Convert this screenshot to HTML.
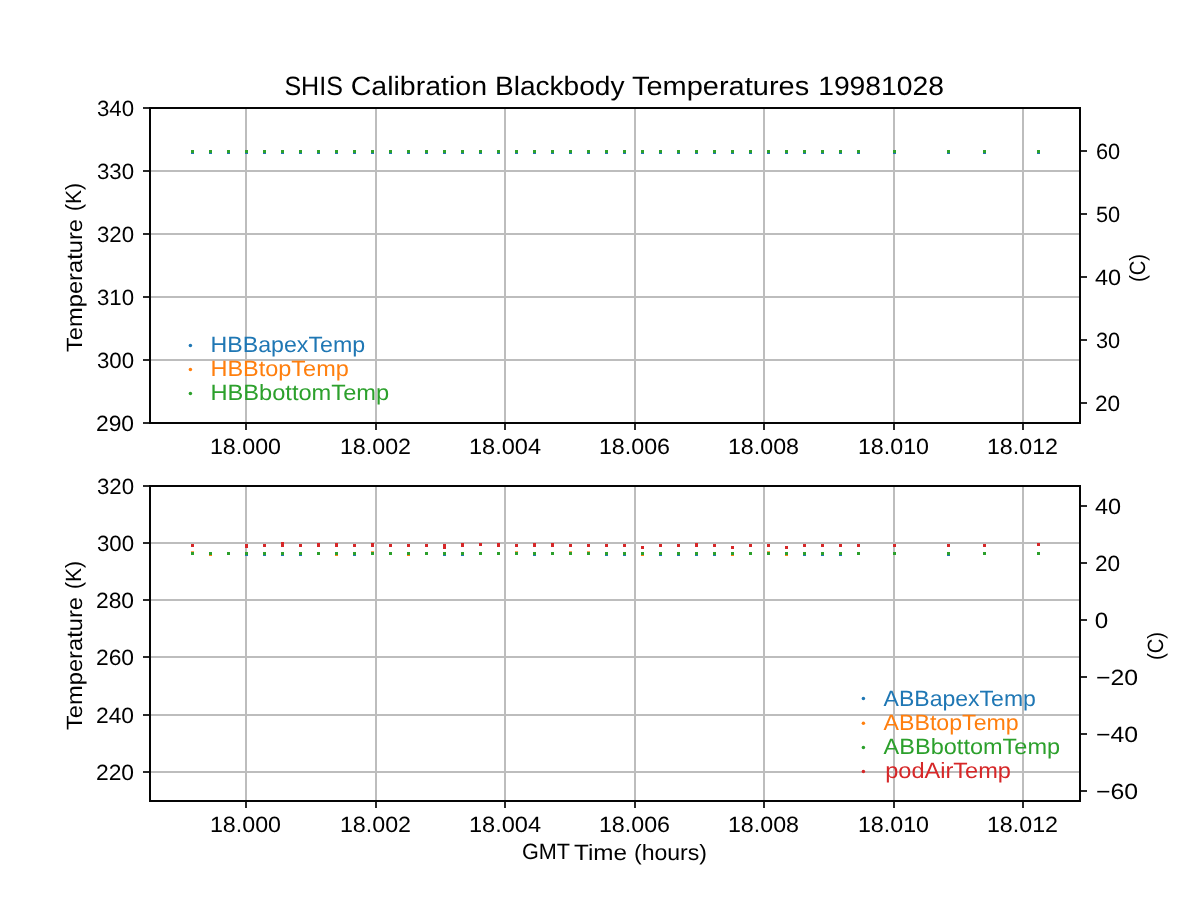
<!DOCTYPE html>
<html><head><meta charset="utf-8"><title>SHIS Calibration Blackbody Temperatures 19981028</title>
<style>html,body{margin:0;padding:0;background:#fff;width:1200px;height:900px;overflow:hidden}svg{display:block;will-change:transform}text{font-family:"Liberation Sans",sans-serif;text-rendering:geometricPrecision}</style></head>
<body><svg width="1200" height="900" viewBox="0 0 1200 900">
<rect width="1200" height="900" fill="#fff"/>
<rect x="245" y="108" width="2" height="315" fill="#bdbdbd"/>
<rect x="375" y="108" width="2" height="315" fill="#bdbdbd"/>
<rect x="504" y="108" width="2" height="315" fill="#bdbdbd"/>
<rect x="634" y="108" width="2" height="315" fill="#bdbdbd"/>
<rect x="763" y="108" width="2" height="315" fill="#bdbdbd"/>
<rect x="893" y="108" width="2" height="315" fill="#bdbdbd"/>
<rect x="1022" y="108" width="2" height="315" fill="#bdbdbd"/>
<rect x="150" y="170" width="930" height="2" fill="#bdbdbd"/>
<rect x="150" y="233" width="930" height="2" fill="#bdbdbd"/>
<rect x="150" y="296" width="930" height="2" fill="#bdbdbd"/>
<rect x="150" y="359" width="930" height="2" fill="#bdbdbd"/>
<rect x="245" y="486" width="2" height="315" fill="#bdbdbd"/>
<rect x="375" y="486" width="2" height="315" fill="#bdbdbd"/>
<rect x="504" y="486" width="2" height="315" fill="#bdbdbd"/>
<rect x="634" y="486" width="2" height="315" fill="#bdbdbd"/>
<rect x="763" y="486" width="2" height="315" fill="#bdbdbd"/>
<rect x="893" y="486" width="2" height="315" fill="#bdbdbd"/>
<rect x="1022" y="486" width="2" height="315" fill="#bdbdbd"/>
<rect x="150" y="542" width="930" height="2" fill="#bdbdbd"/>
<rect x="150" y="599" width="930" height="2" fill="#bdbdbd"/>
<rect x="150" y="656" width="930" height="2" fill="#bdbdbd"/>
<rect x="150" y="714" width="930" height="2" fill="#bdbdbd"/>
<rect x="150" y="771" width="930" height="2" fill="#bdbdbd"/>
<rect x="191.0" y="151" width="3" height="3" fill="#1f77b4"/>
<rect x="191.0" y="150" width="3" height="3" fill="#ff7f0e"/>
<rect x="191.0" y="150" width="3" height="3" fill="#2ca02c"/>
<rect x="209.0" y="151" width="3" height="3" fill="#1f77b4"/>
<rect x="209.0" y="150" width="3" height="3" fill="#ff7f0e"/>
<rect x="209.0" y="150" width="3" height="3" fill="#2ca02c"/>
<rect x="227.0" y="151" width="3" height="3" fill="#1f77b4"/>
<rect x="227.0" y="150" width="3" height="3" fill="#ff7f0e"/>
<rect x="227.0" y="150" width="3" height="3" fill="#2ca02c"/>
<rect x="245.0" y="151" width="3" height="3" fill="#1f77b4"/>
<rect x="245.0" y="150" width="3" height="3" fill="#ff7f0e"/>
<rect x="245.0" y="150" width="3" height="3" fill="#2ca02c"/>
<rect x="263.0" y="151" width="3" height="3" fill="#1f77b4"/>
<rect x="263.0" y="150" width="3" height="3" fill="#ff7f0e"/>
<rect x="263.0" y="150" width="3" height="3" fill="#2ca02c"/>
<rect x="281.0" y="151" width="3" height="3" fill="#1f77b4"/>
<rect x="281.0" y="150" width="3" height="3" fill="#ff7f0e"/>
<rect x="281.0" y="150" width="3" height="3" fill="#2ca02c"/>
<rect x="299.0" y="151" width="3" height="3" fill="#1f77b4"/>
<rect x="299.0" y="150" width="3" height="3" fill="#ff7f0e"/>
<rect x="299.0" y="150" width="3" height="3" fill="#2ca02c"/>
<rect x="317.0" y="151" width="3" height="3" fill="#1f77b4"/>
<rect x="317.0" y="150" width="3" height="3" fill="#ff7f0e"/>
<rect x="317.0" y="150" width="3" height="3" fill="#2ca02c"/>
<rect x="335.0" y="151" width="3" height="3" fill="#1f77b4"/>
<rect x="335.0" y="150" width="3" height="3" fill="#ff7f0e"/>
<rect x="335.0" y="150" width="3" height="3" fill="#2ca02c"/>
<rect x="353.0" y="151" width="3" height="3" fill="#1f77b4"/>
<rect x="353.0" y="150" width="3" height="3" fill="#ff7f0e"/>
<rect x="353.0" y="150" width="3" height="3" fill="#2ca02c"/>
<rect x="371.0" y="151" width="3" height="3" fill="#1f77b4"/>
<rect x="371.0" y="150" width="3" height="3" fill="#ff7f0e"/>
<rect x="371.0" y="150" width="3" height="3" fill="#2ca02c"/>
<rect x="389.0" y="151" width="3" height="3" fill="#1f77b4"/>
<rect x="389.0" y="150" width="3" height="3" fill="#ff7f0e"/>
<rect x="389.0" y="150" width="3" height="3" fill="#2ca02c"/>
<rect x="407.0" y="151" width="3" height="3" fill="#1f77b4"/>
<rect x="407.0" y="150" width="3" height="3" fill="#ff7f0e"/>
<rect x="407.0" y="150" width="3" height="3" fill="#2ca02c"/>
<rect x="425.0" y="151" width="3" height="3" fill="#1f77b4"/>
<rect x="425.0" y="150" width="3" height="3" fill="#ff7f0e"/>
<rect x="425.0" y="150" width="3" height="3" fill="#2ca02c"/>
<rect x="443.0" y="151" width="3" height="3" fill="#1f77b4"/>
<rect x="443.0" y="150" width="3" height="3" fill="#ff7f0e"/>
<rect x="443.0" y="150" width="3" height="3" fill="#2ca02c"/>
<rect x="461.0" y="151" width="3" height="3" fill="#1f77b4"/>
<rect x="461.0" y="150" width="3" height="3" fill="#ff7f0e"/>
<rect x="461.0" y="150" width="3" height="3" fill="#2ca02c"/>
<rect x="479.0" y="151" width="3" height="3" fill="#1f77b4"/>
<rect x="479.0" y="150" width="3" height="3" fill="#ff7f0e"/>
<rect x="479.0" y="150" width="3" height="3" fill="#2ca02c"/>
<rect x="497.0" y="151" width="3" height="3" fill="#1f77b4"/>
<rect x="497.0" y="150" width="3" height="3" fill="#ff7f0e"/>
<rect x="497.0" y="150" width="3" height="3" fill="#2ca02c"/>
<rect x="515.0" y="151" width="3" height="3" fill="#1f77b4"/>
<rect x="515.0" y="150" width="3" height="3" fill="#ff7f0e"/>
<rect x="515.0" y="150" width="3" height="3" fill="#2ca02c"/>
<rect x="533.0" y="151" width="3" height="3" fill="#1f77b4"/>
<rect x="533.0" y="150" width="3" height="3" fill="#ff7f0e"/>
<rect x="533.0" y="150" width="3" height="3" fill="#2ca02c"/>
<rect x="551.0" y="151" width="3" height="3" fill="#1f77b4"/>
<rect x="551.0" y="150" width="3" height="3" fill="#ff7f0e"/>
<rect x="551.0" y="150" width="3" height="3" fill="#2ca02c"/>
<rect x="569.0" y="151" width="3" height="3" fill="#1f77b4"/>
<rect x="569.0" y="150" width="3" height="3" fill="#ff7f0e"/>
<rect x="569.0" y="150" width="3" height="3" fill="#2ca02c"/>
<rect x="587.0" y="151" width="3" height="3" fill="#1f77b4"/>
<rect x="587.0" y="150" width="3" height="3" fill="#ff7f0e"/>
<rect x="587.0" y="150" width="3" height="3" fill="#2ca02c"/>
<rect x="605.0" y="151" width="3" height="3" fill="#1f77b4"/>
<rect x="605.0" y="150" width="3" height="3" fill="#ff7f0e"/>
<rect x="605.0" y="150" width="3" height="3" fill="#2ca02c"/>
<rect x="623.0" y="151" width="3" height="3" fill="#1f77b4"/>
<rect x="623.0" y="150" width="3" height="3" fill="#ff7f0e"/>
<rect x="623.0" y="150" width="3" height="3" fill="#2ca02c"/>
<rect x="641.0" y="151" width="3" height="3" fill="#1f77b4"/>
<rect x="641.0" y="150" width="3" height="3" fill="#ff7f0e"/>
<rect x="641.0" y="150" width="3" height="3" fill="#2ca02c"/>
<rect x="659.0" y="151" width="3" height="3" fill="#1f77b4"/>
<rect x="659.0" y="150" width="3" height="3" fill="#ff7f0e"/>
<rect x="659.0" y="150" width="3" height="3" fill="#2ca02c"/>
<rect x="677.0" y="151" width="3" height="3" fill="#1f77b4"/>
<rect x="677.0" y="150" width="3" height="3" fill="#ff7f0e"/>
<rect x="677.0" y="150" width="3" height="3" fill="#2ca02c"/>
<rect x="695.0" y="151" width="3" height="3" fill="#1f77b4"/>
<rect x="695.0" y="150" width="3" height="3" fill="#ff7f0e"/>
<rect x="695.0" y="150" width="3" height="3" fill="#2ca02c"/>
<rect x="713.0" y="151" width="3" height="3" fill="#1f77b4"/>
<rect x="713.0" y="150" width="3" height="3" fill="#ff7f0e"/>
<rect x="713.0" y="150" width="3" height="3" fill="#2ca02c"/>
<rect x="731.0" y="151" width="3" height="3" fill="#1f77b4"/>
<rect x="731.0" y="150" width="3" height="3" fill="#ff7f0e"/>
<rect x="731.0" y="150" width="3" height="3" fill="#2ca02c"/>
<rect x="749.0" y="151" width="3" height="3" fill="#1f77b4"/>
<rect x="749.0" y="150" width="3" height="3" fill="#ff7f0e"/>
<rect x="749.0" y="150" width="3" height="3" fill="#2ca02c"/>
<rect x="767.0" y="151" width="3" height="3" fill="#1f77b4"/>
<rect x="767.0" y="150" width="3" height="3" fill="#ff7f0e"/>
<rect x="767.0" y="150" width="3" height="3" fill="#2ca02c"/>
<rect x="785.0" y="151" width="3" height="3" fill="#1f77b4"/>
<rect x="785.0" y="150" width="3" height="3" fill="#ff7f0e"/>
<rect x="785.0" y="150" width="3" height="3" fill="#2ca02c"/>
<rect x="803.0" y="151" width="3" height="3" fill="#1f77b4"/>
<rect x="803.0" y="150" width="3" height="3" fill="#ff7f0e"/>
<rect x="803.0" y="150" width="3" height="3" fill="#2ca02c"/>
<rect x="821.0" y="151" width="3" height="3" fill="#1f77b4"/>
<rect x="821.0" y="150" width="3" height="3" fill="#ff7f0e"/>
<rect x="821.0" y="150" width="3" height="3" fill="#2ca02c"/>
<rect x="839.0" y="151" width="3" height="3" fill="#1f77b4"/>
<rect x="839.0" y="150" width="3" height="3" fill="#ff7f0e"/>
<rect x="839.0" y="150" width="3" height="3" fill="#2ca02c"/>
<rect x="857.0" y="151" width="3" height="3" fill="#1f77b4"/>
<rect x="857.0" y="150" width="3" height="3" fill="#ff7f0e"/>
<rect x="857.0" y="150" width="3" height="3" fill="#2ca02c"/>
<rect x="893.0" y="151" width="3" height="3" fill="#1f77b4"/>
<rect x="893.0" y="150" width="3" height="3" fill="#ff7f0e"/>
<rect x="893.0" y="150" width="3" height="3" fill="#2ca02c"/>
<rect x="947.0" y="151" width="3" height="3" fill="#1f77b4"/>
<rect x="947.0" y="150" width="3" height="3" fill="#ff7f0e"/>
<rect x="947.0" y="150" width="3" height="3" fill="#2ca02c"/>
<rect x="983.0" y="151" width="3" height="3" fill="#1f77b4"/>
<rect x="983.0" y="150" width="3" height="3" fill="#ff7f0e"/>
<rect x="983.0" y="150" width="3" height="3" fill="#2ca02c"/>
<rect x="1037.0" y="151" width="3" height="3" fill="#1f77b4"/>
<rect x="1037.0" y="150" width="3" height="3" fill="#ff7f0e"/>
<rect x="1037.0" y="150" width="3" height="3" fill="#2ca02c"/>
<rect x="191.0" y="552" width="3" height="3" fill="#1f77b4"/>
<rect x="191.0" y="551" width="3" height="3" fill="#ff7f0e" opacity="0.7"/>
<rect x="191.0" y="552" width="3" height="3" fill="#2ca02c"/>
<rect x="191.0" y="544" width="3" height="3" fill="#d62728"/>
<rect x="209.0" y="552" width="3" height="3" fill="#1f77b4"/>
<rect x="209.0" y="553" width="3" height="3" fill="#ff7f0e"/>
<rect x="209.0" y="552" width="3" height="3" fill="#2ca02c"/>
<rect x="227.0" y="552" width="3" height="3" fill="#1f77b4"/>
<rect x="227.0" y="552" width="3" height="3" fill="#ff7f0e"/>
<rect x="227.0" y="552" width="3" height="3" fill="#2ca02c"/>
<rect x="245.0" y="553" width="3" height="3" fill="#ff7f0e"/>
<rect x="245.0" y="553" width="3" height="3" fill="#1f77b4"/>
<rect x="245.0" y="552" width="3" height="3" fill="#2ca02c"/>
<rect x="245.0" y="544" width="3" height="3" fill="#d62728"/>
<rect x="245.0" y="545" width="3" height="3" fill="#d62728"/>
<rect x="263.0" y="553" width="3" height="3" fill="#ff7f0e"/>
<rect x="263.0" y="553" width="3" height="3" fill="#1f77b4"/>
<rect x="263.0" y="552" width="3" height="3" fill="#2ca02c"/>
<rect x="263.0" y="544" width="3" height="3" fill="#d62728"/>
<rect x="281.0" y="553" width="3" height="3" fill="#ff7f0e"/>
<rect x="281.0" y="553" width="3" height="3" fill="#1f77b4"/>
<rect x="281.0" y="552" width="3" height="3" fill="#2ca02c"/>
<rect x="281.0" y="542" width="3" height="3" fill="#d62728"/>
<rect x="281.0" y="544" width="3" height="3" fill="#d62728"/>
<rect x="299.0" y="553" width="3" height="3" fill="#ff7f0e"/>
<rect x="299.0" y="553" width="3" height="3" fill="#1f77b4"/>
<rect x="299.0" y="552" width="3" height="3" fill="#2ca02c"/>
<rect x="299.0" y="544" width="3" height="3" fill="#d62728"/>
<rect x="317.0" y="552" width="3" height="3" fill="#1f77b4"/>
<rect x="317.0" y="552" width="3" height="3" fill="#ff7f0e"/>
<rect x="317.0" y="552" width="3" height="3" fill="#2ca02c"/>
<rect x="317.0" y="543" width="3" height="3" fill="#d62728"/>
<rect x="317.0" y="544" width="3" height="3" fill="#d62728"/>
<rect x="335.0" y="552" width="3" height="3" fill="#1f77b4"/>
<rect x="335.0" y="553" width="3" height="3" fill="#ff7f0e"/>
<rect x="335.0" y="552" width="3" height="3" fill="#2ca02c"/>
<rect x="335.0" y="543" width="3" height="3" fill="#d62728"/>
<rect x="335.0" y="544" width="3" height="3" fill="#d62728"/>
<rect x="353.0" y="553" width="3" height="3" fill="#ff7f0e"/>
<rect x="353.0" y="553" width="3" height="3" fill="#1f77b4"/>
<rect x="353.0" y="552" width="3" height="3" fill="#2ca02c"/>
<rect x="353.0" y="544" width="3" height="3" fill="#d62728"/>
<rect x="371.0" y="552" width="3" height="3" fill="#1f77b4"/>
<rect x="371.0" y="551" width="3" height="3" fill="#ff7f0e" opacity="0.7"/>
<rect x="371.0" y="552" width="3" height="3" fill="#2ca02c"/>
<rect x="371.0" y="543" width="3" height="3" fill="#d62728"/>
<rect x="371.0" y="544" width="3" height="3" fill="#d62728"/>
<rect x="389.0" y="552" width="3" height="3" fill="#1f77b4"/>
<rect x="389.0" y="552" width="3" height="3" fill="#ff7f0e"/>
<rect x="389.0" y="552" width="3" height="3" fill="#2ca02c"/>
<rect x="389.0" y="544" width="3" height="3" fill="#d62728"/>
<rect x="407.0" y="552" width="3" height="3" fill="#1f77b4"/>
<rect x="407.0" y="553" width="3" height="3" fill="#ff7f0e"/>
<rect x="407.0" y="552" width="3" height="3" fill="#2ca02c"/>
<rect x="407.0" y="544" width="3" height="3" fill="#d62728"/>
<rect x="425.0" y="552" width="3" height="3" fill="#1f77b4"/>
<rect x="425.0" y="552" width="3" height="3" fill="#ff7f0e"/>
<rect x="425.0" y="552" width="3" height="3" fill="#2ca02c"/>
<rect x="425.0" y="544" width="3" height="3" fill="#d62728"/>
<rect x="443.0" y="553" width="3" height="3" fill="#ff7f0e"/>
<rect x="443.0" y="553" width="3" height="3" fill="#1f77b4"/>
<rect x="443.0" y="552" width="3" height="3" fill="#2ca02c"/>
<rect x="443.0" y="544" width="3" height="3" fill="#d62728"/>
<rect x="443.0" y="546" width="3" height="3" fill="#d62728"/>
<rect x="461.0" y="553" width="3" height="3" fill="#ff7f0e"/>
<rect x="461.0" y="553" width="3" height="3" fill="#1f77b4"/>
<rect x="461.0" y="552" width="3" height="3" fill="#2ca02c"/>
<rect x="461.0" y="543" width="3" height="3" fill="#d62728"/>
<rect x="461.0" y="544" width="3" height="3" fill="#d62728"/>
<rect x="479.0" y="552" width="3" height="3" fill="#1f77b4"/>
<rect x="479.0" y="552" width="3" height="3" fill="#ff7f0e"/>
<rect x="479.0" y="552" width="3" height="3" fill="#2ca02c"/>
<rect x="479.0" y="543" width="3" height="3" fill="#d62728"/>
<rect x="497.0" y="552" width="3" height="3" fill="#1f77b4"/>
<rect x="497.0" y="552" width="3" height="3" fill="#ff7f0e"/>
<rect x="497.0" y="552" width="3" height="3" fill="#2ca02c"/>
<rect x="497.0" y="543" width="3" height="3" fill="#d62728"/>
<rect x="497.0" y="544" width="3" height="3" fill="#d62728"/>
<rect x="515.0" y="552" width="3" height="3" fill="#1f77b4"/>
<rect x="515.0" y="551" width="3" height="3" fill="#ff7f0e" opacity="0.7"/>
<rect x="515.0" y="552" width="3" height="3" fill="#2ca02c"/>
<rect x="515.0" y="544" width="3" height="3" fill="#d62728"/>
<rect x="533.0" y="553" width="3" height="3" fill="#ff7f0e"/>
<rect x="533.0" y="553" width="3" height="3" fill="#1f77b4"/>
<rect x="533.0" y="552" width="3" height="3" fill="#2ca02c"/>
<rect x="533.0" y="543" width="3" height="3" fill="#d62728"/>
<rect x="533.0" y="544" width="3" height="3" fill="#d62728"/>
<rect x="551.0" y="552" width="3" height="3" fill="#1f77b4"/>
<rect x="551.0" y="552" width="3" height="3" fill="#ff7f0e"/>
<rect x="551.0" y="552" width="3" height="3" fill="#2ca02c"/>
<rect x="551.0" y="543" width="3" height="3" fill="#d62728"/>
<rect x="551.0" y="544" width="3" height="3" fill="#d62728"/>
<rect x="569.0" y="552" width="3" height="3" fill="#1f77b4"/>
<rect x="569.0" y="551" width="3" height="3" fill="#ff7f0e" opacity="0.7"/>
<rect x="569.0" y="552" width="3" height="3" fill="#2ca02c"/>
<rect x="569.0" y="544" width="3" height="3" fill="#d62728"/>
<rect x="587.0" y="552" width="3" height="3" fill="#1f77b4"/>
<rect x="587.0" y="551" width="3" height="3" fill="#ff7f0e" opacity="0.7"/>
<rect x="587.0" y="552" width="3" height="3" fill="#2ca02c"/>
<rect x="587.0" y="544" width="3" height="3" fill="#d62728"/>
<rect x="605.0" y="553" width="3" height="3" fill="#ff7f0e"/>
<rect x="605.0" y="553" width="3" height="3" fill="#1f77b4"/>
<rect x="605.0" y="552" width="3" height="3" fill="#2ca02c"/>
<rect x="605.0" y="544" width="3" height="3" fill="#d62728"/>
<rect x="623.0" y="553" width="3" height="3" fill="#ff7f0e"/>
<rect x="623.0" y="553" width="3" height="3" fill="#1f77b4"/>
<rect x="623.0" y="552" width="3" height="3" fill="#2ca02c"/>
<rect x="623.0" y="544" width="3" height="3" fill="#d62728"/>
<rect x="641.0" y="552" width="3" height="3" fill="#1f77b4"/>
<rect x="641.0" y="553" width="3" height="3" fill="#ff7f0e"/>
<rect x="641.0" y="552" width="3" height="3" fill="#2ca02c"/>
<rect x="641.0" y="546" width="3" height="3" fill="#d62728"/>
<rect x="659.0" y="553" width="3" height="3" fill="#ff7f0e"/>
<rect x="659.0" y="553" width="3" height="3" fill="#1f77b4"/>
<rect x="659.0" y="552" width="3" height="3" fill="#2ca02c"/>
<rect x="659.0" y="544" width="3" height="3" fill="#d62728"/>
<rect x="677.0" y="553" width="3" height="3" fill="#ff7f0e"/>
<rect x="677.0" y="553" width="3" height="3" fill="#1f77b4"/>
<rect x="677.0" y="552" width="3" height="3" fill="#2ca02c"/>
<rect x="677.0" y="544" width="3" height="3" fill="#d62728"/>
<rect x="695.0" y="553" width="3" height="3" fill="#ff7f0e"/>
<rect x="695.0" y="553" width="3" height="3" fill="#1f77b4"/>
<rect x="695.0" y="552" width="3" height="3" fill="#2ca02c"/>
<rect x="695.0" y="543" width="3" height="3" fill="#d62728"/>
<rect x="695.0" y="544" width="3" height="3" fill="#d62728"/>
<rect x="713.0" y="553" width="3" height="3" fill="#ff7f0e"/>
<rect x="713.0" y="553" width="3" height="3" fill="#1f77b4"/>
<rect x="713.0" y="552" width="3" height="3" fill="#2ca02c"/>
<rect x="713.0" y="544" width="3" height="3" fill="#d62728"/>
<rect x="731.0" y="552" width="3" height="3" fill="#1f77b4"/>
<rect x="731.0" y="553" width="3" height="3" fill="#ff7f0e"/>
<rect x="731.0" y="552" width="3" height="3" fill="#2ca02c"/>
<rect x="731.0" y="546" width="3" height="3" fill="#d62728"/>
<rect x="749.0" y="552" width="3" height="3" fill="#1f77b4"/>
<rect x="749.0" y="552" width="3" height="3" fill="#ff7f0e"/>
<rect x="749.0" y="552" width="3" height="3" fill="#2ca02c"/>
<rect x="749.0" y="544" width="3" height="3" fill="#d62728"/>
<rect x="767.0" y="552" width="3" height="3" fill="#1f77b4"/>
<rect x="767.0" y="551" width="3" height="3" fill="#ff7f0e" opacity="0.7"/>
<rect x="767.0" y="552" width="3" height="3" fill="#2ca02c"/>
<rect x="767.0" y="544" width="3" height="3" fill="#d62728"/>
<rect x="785.0" y="552" width="3" height="3" fill="#1f77b4"/>
<rect x="785.0" y="553" width="3" height="3" fill="#ff7f0e"/>
<rect x="785.0" y="552" width="3" height="3" fill="#2ca02c"/>
<rect x="785.0" y="546" width="3" height="3" fill="#d62728"/>
<rect x="803.0" y="553" width="3" height="3" fill="#ff7f0e"/>
<rect x="803.0" y="553" width="3" height="3" fill="#1f77b4"/>
<rect x="803.0" y="552" width="3" height="3" fill="#2ca02c"/>
<rect x="803.0" y="544" width="3" height="3" fill="#d62728"/>
<rect x="821.0" y="553" width="3" height="3" fill="#ff7f0e"/>
<rect x="821.0" y="553" width="3" height="3" fill="#1f77b4"/>
<rect x="821.0" y="552" width="3" height="3" fill="#2ca02c"/>
<rect x="821.0" y="544" width="3" height="3" fill="#d62728"/>
<rect x="839.0" y="553" width="3" height="3" fill="#ff7f0e"/>
<rect x="839.0" y="553" width="3" height="3" fill="#1f77b4"/>
<rect x="839.0" y="552" width="3" height="3" fill="#2ca02c"/>
<rect x="839.0" y="544" width="3" height="3" fill="#d62728"/>
<rect x="857.0" y="552" width="3" height="3" fill="#1f77b4"/>
<rect x="857.0" y="552" width="3" height="3" fill="#ff7f0e"/>
<rect x="857.0" y="552" width="3" height="3" fill="#2ca02c"/>
<rect x="857.0" y="544" width="3" height="3" fill="#d62728"/>
<rect x="893.0" y="552" width="3" height="3" fill="#1f77b4"/>
<rect x="893.0" y="552" width="3" height="3" fill="#ff7f0e"/>
<rect x="893.0" y="552" width="3" height="3" fill="#2ca02c"/>
<rect x="893.0" y="544" width="3" height="3" fill="#d62728"/>
<rect x="947.0" y="553" width="3" height="3" fill="#ff7f0e"/>
<rect x="947.0" y="553" width="3" height="3" fill="#1f77b4"/>
<rect x="947.0" y="552" width="3" height="3" fill="#2ca02c"/>
<rect x="947.0" y="544" width="3" height="3" fill="#d62728"/>
<rect x="983.0" y="552" width="3" height="3" fill="#1f77b4"/>
<rect x="983.0" y="552" width="3" height="3" fill="#ff7f0e"/>
<rect x="983.0" y="552" width="3" height="3" fill="#2ca02c"/>
<rect x="983.0" y="544" width="3" height="3" fill="#d62728"/>
<rect x="1037.0" y="552" width="3" height="3" fill="#1f77b4"/>
<rect x="1037.0" y="552" width="3" height="3" fill="#ff7f0e"/>
<rect x="1037.0" y="552" width="3" height="3" fill="#2ca02c"/>
<rect x="1037.0" y="543" width="3" height="3" fill="#d62728"/>
<circle cx="190.4" cy="345.4" r="1.75" fill="#1f77b4"/>
<circle cx="190.4" cy="369.6" r="1.75" fill="#ff7f0e"/>
<circle cx="190.4" cy="393.5" r="1.75" fill="#2ca02c"/>
<circle cx="863.4" cy="698.6" r="1.75" fill="#1f77b4"/>
<circle cx="863.4" cy="723.3" r="1.75" fill="#ff7f0e"/>
<circle cx="863.4" cy="747.4" r="1.75" fill="#2ca02c"/>
<circle cx="863.4" cy="771.4" r="1.75" fill="#d62728"/>
<rect x="245" y="424" width="2" height="6" fill="#2a2a2a"/>
<rect x="375" y="424" width="2" height="6" fill="#2a2a2a"/>
<rect x="504" y="424" width="2" height="6" fill="#2a2a2a"/>
<rect x="634" y="424" width="2" height="6" fill="#2a2a2a"/>
<rect x="763" y="424" width="2" height="6" fill="#2a2a2a"/>
<rect x="893" y="424" width="2" height="6" fill="#2a2a2a"/>
<rect x="1022" y="424" width="2" height="6" fill="#2a2a2a"/>
<rect x="143" y="107" width="6" height="2" fill="#2a2a2a"/>
<rect x="143" y="170" width="6" height="2" fill="#2a2a2a"/>
<rect x="143" y="233" width="6" height="2" fill="#2a2a2a"/>
<rect x="143" y="296" width="6" height="2" fill="#2a2a2a"/>
<rect x="143" y="359" width="6" height="2" fill="#2a2a2a"/>
<rect x="143" y="422" width="6" height="2" fill="#2a2a2a"/>
<rect x="1081" y="150" width="6" height="2" fill="#2a2a2a"/>
<rect x="1081" y="213" width="6" height="2" fill="#2a2a2a"/>
<rect x="1081" y="276" width="6" height="2" fill="#2a2a2a"/>
<rect x="1081" y="339" width="6" height="2" fill="#2a2a2a"/>
<rect x="1081" y="402" width="6" height="2" fill="#2a2a2a"/>
<rect x="149" y="107" width="2" height="317" fill="#050505"/>
<rect x="1079" y="107" width="2" height="317" fill="#050505"/>
<rect x="149" y="107" width="932" height="2" fill="#050505"/>
<rect x="149" y="422" width="932" height="2" fill="#050505"/>
<rect x="245" y="802" width="2" height="6" fill="#2a2a2a"/>
<rect x="375" y="802" width="2" height="6" fill="#2a2a2a"/>
<rect x="504" y="802" width="2" height="6" fill="#2a2a2a"/>
<rect x="634" y="802" width="2" height="6" fill="#2a2a2a"/>
<rect x="763" y="802" width="2" height="6" fill="#2a2a2a"/>
<rect x="893" y="802" width="2" height="6" fill="#2a2a2a"/>
<rect x="1022" y="802" width="2" height="6" fill="#2a2a2a"/>
<rect x="143" y="485" width="6" height="2" fill="#2a2a2a"/>
<rect x="143" y="542" width="6" height="2" fill="#2a2a2a"/>
<rect x="143" y="599" width="6" height="2" fill="#2a2a2a"/>
<rect x="143" y="656" width="6" height="2" fill="#2a2a2a"/>
<rect x="143" y="714" width="6" height="2" fill="#2a2a2a"/>
<rect x="143" y="771" width="6" height="2" fill="#2a2a2a"/>
<rect x="1081" y="505" width="6" height="2" fill="#2a2a2a"/>
<rect x="1081" y="562" width="6" height="2" fill="#2a2a2a"/>
<rect x="1081" y="619" width="6" height="2" fill="#2a2a2a"/>
<rect x="1081" y="676" width="6" height="2" fill="#2a2a2a"/>
<rect x="1081" y="733" width="6" height="2" fill="#2a2a2a"/>
<rect x="1081" y="790" width="6" height="2" fill="#2a2a2a"/>
<rect x="149" y="485" width="2" height="317" fill="#050505"/>
<rect x="1079" y="485" width="2" height="317" fill="#050505"/>
<rect x="149" y="485" width="932" height="2" fill="#050505"/>
<rect x="149" y="800" width="932" height="2" fill="#050505"/>
<text transform="translate(209.908,454.096) scale(1.0535,1)" font-size="22.075" fill="#000">18.000</text>
<text transform="translate(339.908,454.102) scale(1.0535,1)" font-size="22.075" fill="#000">18.002</text>
<text transform="translate(468.909,454.051) scale(1.0683,1)" font-size="22.075" fill="#000">18.004</text>
<text transform="translate(598.908,454.144) scale(1.0535,1)" font-size="22.075" fill="#000">18.006</text>
<text transform="translate(727.908,454.088) scale(1.0535,1)" font-size="22.075" fill="#000">18.008</text>
<text transform="translate(857.908,454.023) scale(1.0535,1)" font-size="22.075" fill="#000">18.010</text>
<text transform="translate(986.908,454.028) scale(1.0535,1)" font-size="22.075" fill="#000">18.012</text>
<text transform="translate(95.941,431.087) scale(1.0352,1)" font-size="22.075" fill="#000">290</text>
<text transform="translate(96.939,368.133) scale(1.0082,1)" font-size="22.075" fill="#000">300</text>
<text transform="translate(96.939,305.017) scale(1.0082,1)" font-size="22.075" fill="#000">310</text>
<text transform="translate(96.939,242.150) scale(1.0082,1)" font-size="22.075" fill="#000">320</text>
<text transform="translate(96.939,179.112) scale(1.0082,1)" font-size="22.075" fill="#000">330</text>
<text transform="translate(96.939,116.064) scale(1.0082,1)" font-size="22.075" fill="#000">340</text>
<text transform="translate(81.812,352.016) rotate(-90) scale(1.0735,1)" font-size="22.075" fill="#000">Temperature</text>
<text transform="translate(81.086,211.083) rotate(-90) scale(0.9572,1)" font-size="22.075" fill="#000">(K)</text>
<text transform="translate(1094.905,411.173) scale(1.0262,1)" font-size="22.075" fill="#000">20</text>
<text transform="translate(1095.900,348.127) scale(0.9859,1)" font-size="22.075" fill="#000">30</text>
<text transform="translate(1094.957,285.050) scale(1.0646,1)" font-size="22.075" fill="#000">40</text>
<text transform="translate(1095.900,222.166) scale(0.9859,1)" font-size="22.075" fill="#000">50</text>
<text transform="translate(1095.900,159.276) scale(0.9859,1)" font-size="22.075" fill="#000">60</text>
<text transform="translate(1145.306,282.083) rotate(-90) scale(0.9193,1)" font-size="22.075" fill="#000">(C)</text>
<text transform="translate(209.908,832.096) scale(1.0535,1)" font-size="22.075" fill="#000">18.000</text>
<text transform="translate(339.908,832.102) scale(1.0535,1)" font-size="22.075" fill="#000">18.002</text>
<text transform="translate(468.909,832.051) scale(1.0683,1)" font-size="22.075" fill="#000">18.004</text>
<text transform="translate(598.908,832.144) scale(1.0535,1)" font-size="22.075" fill="#000">18.006</text>
<text transform="translate(727.908,832.088) scale(1.0535,1)" font-size="22.075" fill="#000">18.008</text>
<text transform="translate(857.908,832.023) scale(1.0535,1)" font-size="22.075" fill="#000">18.010</text>
<text transform="translate(986.908,832.028) scale(1.0535,1)" font-size="22.075" fill="#000">18.012</text>
<text transform="translate(95.941,780.185) scale(1.0352,1)" font-size="22.075" fill="#000">220</text>
<text transform="translate(95.941,723.096) scale(1.0352,1)" font-size="22.075" fill="#000">240</text>
<text transform="translate(95.941,665.249) scale(1.0352,1)" font-size="22.075" fill="#000">260</text>
<text transform="translate(95.941,608.147) scale(1.0352,1)" font-size="22.075" fill="#000">280</text>
<text transform="translate(96.939,551.133) scale(1.0082,1)" font-size="22.075" fill="#000">300</text>
<text transform="translate(96.939,494.150) scale(1.0082,1)" font-size="22.075" fill="#000">320</text>
<text transform="translate(521.955,859.200) scale(0.9804,1)" font-size="22.075" fill="#000">GMT</text>
<text transform="translate(573.959,859.833) scale(1.1005,1)" font-size="22.075" fill="#000">Time</text>
<text transform="translate(633.971,859.833) scale(1.0451,1)" font-size="22.075" fill="#000">(hours)</text>
<text transform="translate(81.812,730.016) rotate(-90) scale(1.0735,1)" font-size="22.075" fill="#000">Temperature</text>
<text transform="translate(81.086,589.083) rotate(-90) scale(0.9572,1)" font-size="22.075" fill="#000">(K)</text>
<text transform="translate(1095.947,799.355) scale(1.1246,1)" font-size="22.075" fill="#000">−60</text>
<text transform="translate(1095.947,742.173) scale(1.1246,1)" font-size="22.075" fill="#000">−40</text>
<text transform="translate(1095.947,685.282) scale(1.1246,1)" font-size="22.075" fill="#000">−20</text>
<text transform="translate(1094.778,628.162) scale(1.0954,1)" font-size="22.075" fill="#000">0</text>
<text transform="translate(1094.905,571.173) scale(1.0262,1)" font-size="22.075" fill="#000">20</text>
<text transform="translate(1094.957,514.050) scale(1.0646,1)" font-size="22.075" fill="#000">40</text>
<text transform="translate(1163.306,660.083) rotate(-90) scale(0.9193,1)" font-size="22.075" fill="#000">(C)</text>
<text transform="translate(284.401,94.900) scale(0.9453,1)" font-size="26.490" fill="#000">SHIS</text>
<text transform="translate(350.751,94.900) scale(1.0765,1)" font-size="26.490" fill="#000">Calibration</text>
<text transform="translate(494.928,94.900) scale(1.0603,1)" font-size="26.490" fill="#000">Blackbody</text>
<text transform="translate(631.995,94.900) scale(1.0942,1)" font-size="26.490" fill="#000">Temperatures</text>
<text transform="translate(818.152,94.900) scale(1.0681,1)" font-size="26.490" fill="#000">19981028</text>
<text transform="translate(210.447,351.900) scale(1.0512,1)" font-size="22.075" fill="#1f77b4">HBBapexTemp</text>
<text transform="translate(210.430,375.900) scale(1.0642,1)" font-size="22.075" fill="#ff7f0e">HBBtopTemp</text>
<text transform="translate(210.454,399.900) scale(1.0713,1)" font-size="22.075" fill="#2ca02c">HBBbottomTemp</text>
<text transform="translate(883.597,705.900) scale(1.0437,1)" font-size="22.075" fill="#1f77b4">ABBapexTemp</text>
<text transform="translate(883.595,729.900) scale(1.0496,1)" font-size="22.075" fill="#ff7f0e">ABBtopTemp</text>
<text transform="translate(883.599,753.900) scale(1.0663,1)" font-size="22.075" fill="#2ca02c">ABBbottomTemp</text>
<text transform="translate(885.152,777.900) scale(1.0686,1)" font-size="22.075" fill="#d62728">podAirTemp</text>
</svg></body></html>
